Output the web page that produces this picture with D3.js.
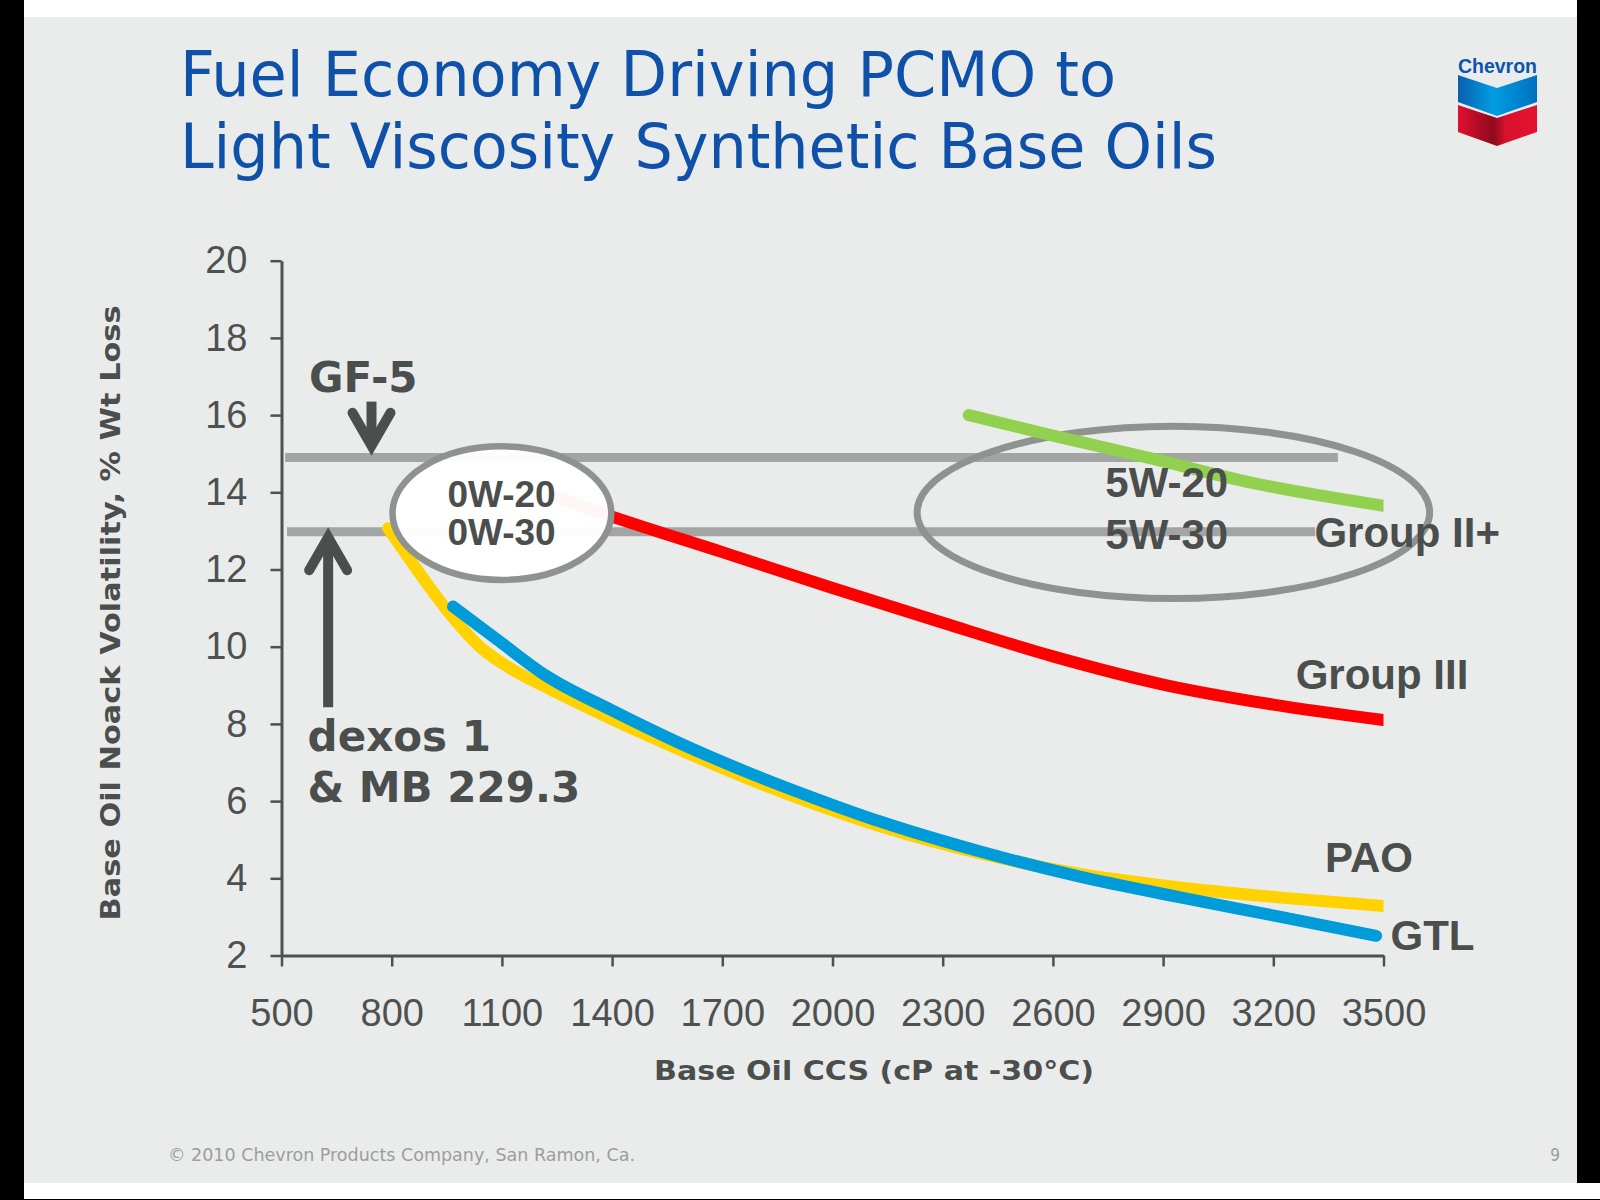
<!DOCTYPE html>
<html>
<head>
<meta charset="utf-8">
<script src="https://cdn.jsdelivr.net/npm/d3@7"></script>
<style>
  html, body { margin: 0; padding: 0; background: #ffffff; }
  svg { display: block; }
</style>
</head>
<body>
<script>
// ---------- DATA ----------
const xTicks = [500, 800, 1100, 1400, 1700, 2000, 2300, 2600, 2900, 3200, 3500];
const yTicks = [2, 4, 6, 8, 10, 12, 14, 16, 18, 20];

// Group II+ (green)
const groupIIplusCCS = [2371, 2600, 2870, 3140, 3500];
const groupIIplusNoack = [16.0, 15.47, 14.87, 14.25, 13.65];

// Group III (red)
const groupIIICCS = [1240, 1400, 1700, 2000, 2300, 2600, 2900, 3200, 3500];
const groupIIINoack = [13.9, 13.37, 12.45, 11.52, 10.62, 9.75, 9.02, 8.5, 8.1];

// PAO (yellow)
const paoCCS = [790, 870, 950, 1040, 1130, 1220, 1400, 1580, 1760, 1950, 2130, 2400, 2670, 2940, 3220, 3500];
const paoNoack = [13.07, 11.98, 10.95, 10.0, 9.4, 8.95, 8.12, 7.35, 6.62, 5.93, 5.35, 4.65, 4.12, 3.77, 3.5, 3.28];

// GTL (blue)
const gtlCCS = [967, 1085, 1220, 1400, 1580, 1760, 1950, 2130, 2400, 2670, 2940, 3220, 3480];
const gtlNoack = [11.04, 10.2, 9.25, 8.35, 7.52, 6.78, 6.08, 5.47, 4.7, 4.05, 3.52, 3.0, 2.51];

// Specification limits (horizontal bands)
const limitNames = ["GF-5", "dexos 1"];
const limitNoack = [14.9, 12.98];
const limitFrom = [510, 515];
const limitTo = [3376, 3314];

// ---------- LAYOUT ----------
const W = 1600, H = 1200;
const svg = d3.select("body").append("svg").attr("width", W).attr("height", H);

// slide frame
svg.append("rect").attr("x", 0).attr("y", 0).attr("width", W).attr("height", H).attr("fill", "#ffffff");
svg.append("rect").attr("x", 0).attr("y", 0).attr("width", 24).attr("height", H).attr("fill", "#000");
svg.append("rect").attr("x", 1577).attr("y", 0).attr("width", 23).attr("height", 1183).attr("fill", "#000");
svg.append("rect").attr("x", 0).attr("y", 1199).attr("width", W).attr("height", 1).attr("fill", "#000");
svg.append("rect").attr("x", 24).attr("y", 17).attr("width", 1553).attr("height", 1166).attr("fill", "#eaeceb");

// Title
const titleColor = "#0f51a8";
const titleFont = "'DejaVu Sans Condensed', 'DejaVu Sans', Verdana, sans-serif";
svg.append("text").attr("x", 180).attr("y", 96)
  .attr("font-family", titleFont).attr("font-stretch", "condensed").attr("font-size", 62).attr("fill", titleColor)
  .attr("textLength", 936).attr("lengthAdjust", "spacingAndGlyphs")
  .text("Fuel Economy Driving PCMO to");
svg.append("text").attr("x", 180).attr("y", 168)
  .attr("font-family", titleFont).attr("font-stretch", "condensed").attr("font-size", 62).attr("fill", titleColor)
  .attr("textLength", 1037).attr("lengthAdjust", "spacingAndGlyphs")
  .text("Light Viscosity Synthetic Base Oils");

// Chevron logo
const defs = svg.append("defs");
const gb = defs.append("linearGradient").attr("id", "gblue").attr("x1", "0").attr("y1", "0").attr("x2", "1").attr("y2", "0");
gb.append("stop").attr("offset", "0").attr("stop-color", "#0a5fb0");
gb.append("stop").attr("offset", "0.45").attr("stop-color", "#009de2");
gb.append("stop").attr("offset", "1").attr("stop-color", "#0070c0");
const gr = defs.append("linearGradient").attr("id", "gred").attr("x1", "0").attr("y1", "0").attr("x2", "1").attr("y2", "0");
gr.append("stop").attr("offset", "0").attr("stop-color", "#e0102e");
gr.append("stop").attr("offset", "0.45").attr("stop-color", "#8e0a1c");
gr.append("stop").attr("offset", "0.6").attr("stop-color", "#d8112c");
gr.append("stop").attr("offset", "1").attr("stop-color", "#e3132f");
svg.append("text").attr("x", 1458).attr("y", 73)
  .attr("font-family", "'Liberation Sans Narrow', 'Liberation Sans', Arial, sans-serif")
  .attr("font-weight", "bold").attr("font-size", 21).attr("fill", "#0a56ad")
  .attr("textLength", 79).attr("lengthAdjust", "spacingAndGlyphs").text("Chevron");
svg.append("polygon").attr("points", "1458,75 1497,88 1537,75 1537,102 1497,116 1458,102").attr("fill", "url(#gblue)");
svg.append("polygon").attr("points", "1458,105 1497,118 1537,105 1537,132 1497,146 1458,132").attr("fill", "url(#gred)");

// ---------- SCALES & AXES ----------
const x = d3.scaleLinear().domain([500, 3500]).range([281.5, 1383.5]);
const y = d3.scaleLinear().domain([2, 20]).range([955.5, 260.7]);
const axisColor = "#4d5150";
const tickFont = "'Liberation Sans', Arial, sans-serif";

const gy = svg.append("g").attr("transform", `translate(${x(500)},0)`)
  .call(d3.axisLeft(y).tickValues(yTicks).tickSize(11).tickSizeOuter(0).tickPadding(23).tickFormat(d3.format("d")));
const gx = svg.append("g").attr("transform", `translate(0,${y(2)})`)
  .call(d3.axisBottom(x).tickValues(xTicks).tickSize(11).tickSizeOuter(0).tickPadding(33).tickFormat(d3.format("d")));
[gx, gy].forEach(g => {
  g.select(".domain").attr("stroke", axisColor).attr("stroke-width", 3);
  g.selectAll(".tick line").attr("stroke", axisColor).attr("stroke-width", 2.5);
  g.selectAll(".tick text").attr("fill", axisColor).attr("font-family", tickFont).attr("font-size", 38);
});

// Axis titles
const boldFont = "'DejaVu Sans', Verdana, sans-serif";
svg.append("text").attr("x", 874).attr("y", 1080).attr("text-anchor", "middle")
  .attr("font-family", boldFont).attr("font-weight", "bold").attr("font-size", 27).attr("fill", "#4a4e4d")
  .attr("textLength", 440).attr("lengthAdjust", "spacingAndGlyphs")
  .text("Base Oil CCS (cP at -30°C)");
svg.append("text").attr("transform", "translate(120,613) rotate(-90)").attr("text-anchor", "middle")
  .attr("font-family", boldFont).attr("font-weight", "bold").attr("font-size", 27).attr("fill", "#4a4e4d")
  .attr("textLength", 615).attr("lengthAdjust", "spacingAndGlyphs")
  .text("Base Oil Noack Volatility, % Wt Loss");

// ---------- PLOT ----------
const plot = svg.append("g");
defs.append("clipPath").attr("id", "clipPlot").append("rect")
  .attr("x", x(500)).attr("y", 0).attr("width", x(3500) - x(500)).attr("height", H);

// Spec limit bands
limitNoack.forEach((v, i) => {
  plot.append("line")
    .attr("x1", x(limitFrom[i])).attr("x2", x(limitTo[i]))
    .attr("y1", y(v)).attr("y2", y(v))
    .attr("stroke", "#a3a5a4").attr("stroke-width", 9);
});

// 5W ellipse (no fill)
const ell2 = { cx: 2928, cy: 13.48, rx: 697.6, ry: 2.23 };
plot.append("ellipse")
  .attr("cx", x(ell2.cx)).attr("cy", y(ell2.cy))
  .attr("rx", x(ell2.cx + ell2.rx) - x(ell2.cx)).attr("ry", y(ell2.cy - ell2.ry) - y(ell2.cy))
  .attr("fill", "none").attr("stroke", "#8e9390").attr("stroke-width", 7);

const line = d3.line().x(d => x(d[0])).y(d => y(d[1])).curve(d3.curveMonotoneX);
const series = [
  { xs: groupIIICCS, ys: groupIIINoack, color: "#ff0000" },
  { xs: paoCCS, ys: paoNoack, color: "#ffd200" },
  { xs: gtlCCS, ys: gtlNoack, color: "#009cd9" },
  { xs: groupIIplusCCS, ys: groupIIplusNoack, color: "#92d050" }
];
const curves = plot.append("g").attr("clip-path", "url(#clipPlot)");
series.forEach(s => {
  curves.append("path")
    .datum(s.xs.map((v, i) => [v, s.ys[i]]))
    .attr("d", line)
    .attr("fill", "none").attr("stroke", s.color).attr("stroke-width", 12)
    .attr("stroke-linecap", "round").attr("stroke-linejoin", "round");
});

// 0W ellipse (white, nearly opaque)
const ell1 = { cx: 1100, cy: 13.46, rx: 297.8, ry: 1.73 };
plot.append("ellipse")
  .attr("cx", x(ell1.cx)).attr("cy", y(ell1.cy))
  .attr("rx", x(ell1.cx + ell1.rx) - x(ell1.cx)).attr("ry", y(ell1.cy - ell1.ry) - y(ell1.cy))
  .attr("fill", "#ffffff").attr("fill-opacity", 0.965).attr("stroke", "#8e9390").attr("stroke-width", 6.5);

// Arrows
const arrowColor = "#4a4e4d";
function arrow(xv, yFrom, yTo) {
  const x0 = x(xv), y0 = y(yFrom), y1 = y(yTo);
  const dir = y1 > y0 ? 1 : -1;
  plot.append("line").attr("x1", x0).attr("x2", x0).attr("y1", y0).attr("y2", y1 - dir * 4)
    .attr("stroke", arrowColor).attr("stroke-width", 10).attr("stroke-linecap", "butt");
  plot.append("polyline")
    .attr("points", `${x0 - 19},${y1 - dir * 37} ${x0},${y1 - dir * 4} ${x0 + 19},${y1 - dir * 37}`)
    .attr("fill", "none").attr("stroke", arrowColor).attr("stroke-width", 10)
    .attr("stroke-linecap", "round").attr("stroke-linejoin", "miter");
}
arrow(745, 16.35, 15.1);
arrow(627, 8.43, 12.94);

// Labels
const labelColor = "#4a4e4d";
const arialBold = "'Liberation Sans', Arial, sans-serif";
function label(txt, xv, yv, size, family, anchor) {
  plot.append("text").attr("x", x(xv)).attr("y", y(yv))
    .attr("text-anchor", anchor || "start")
    .attr("font-family", family).attr("font-weight", "bold").attr("font-size", size)
    .attr("fill", labelColor).text(txt);
}
label("GF-5", 575, 16.61, 42, boldFont);
label("dexos 1", 571, 7.31, 42, boldFont);
label("& MB 229.3", 571, 5.97, 42, boldFont);
label("0W-20", 1099, 13.63, 37, arialBold, "middle");
label("0W-30", 1099, 12.63, 37, arialBold, "middle");
label("5W-20", 2910, 13.87, 42, arialBold, "middle");
label("5W-30", 2910, 12.52, 42, arialBold, "middle");
label("Group II+", 3312, 12.59, 42, arialBold);
label("Group III", 3261, 8.90, 42, arialBold);
label("PAO", 3341, 4.17, 42, arialBold);
label("GTL", 3519, 2.14, 42, arialBold);

// Footer
svg.append("text").attr("x", 168).attr("y", 1161)
  .attr("font-family", titleFont).attr("font-stretch", "condensed").attr("font-size", 17).attr("fill", "#9c9d9d")
  .attr("textLength", 467).attr("lengthAdjust", "spacingAndGlyphs")
  .text("© 2010 Chevron Products Company, San Ramon, Ca.");
svg.append("text").attr("x", 1560).attr("y", 1161).attr("text-anchor", "end")
  .attr("font-family", titleFont).attr("font-size", 17).attr("fill", "#9c9d9d").text("9");
</script>
</body>
</html>
